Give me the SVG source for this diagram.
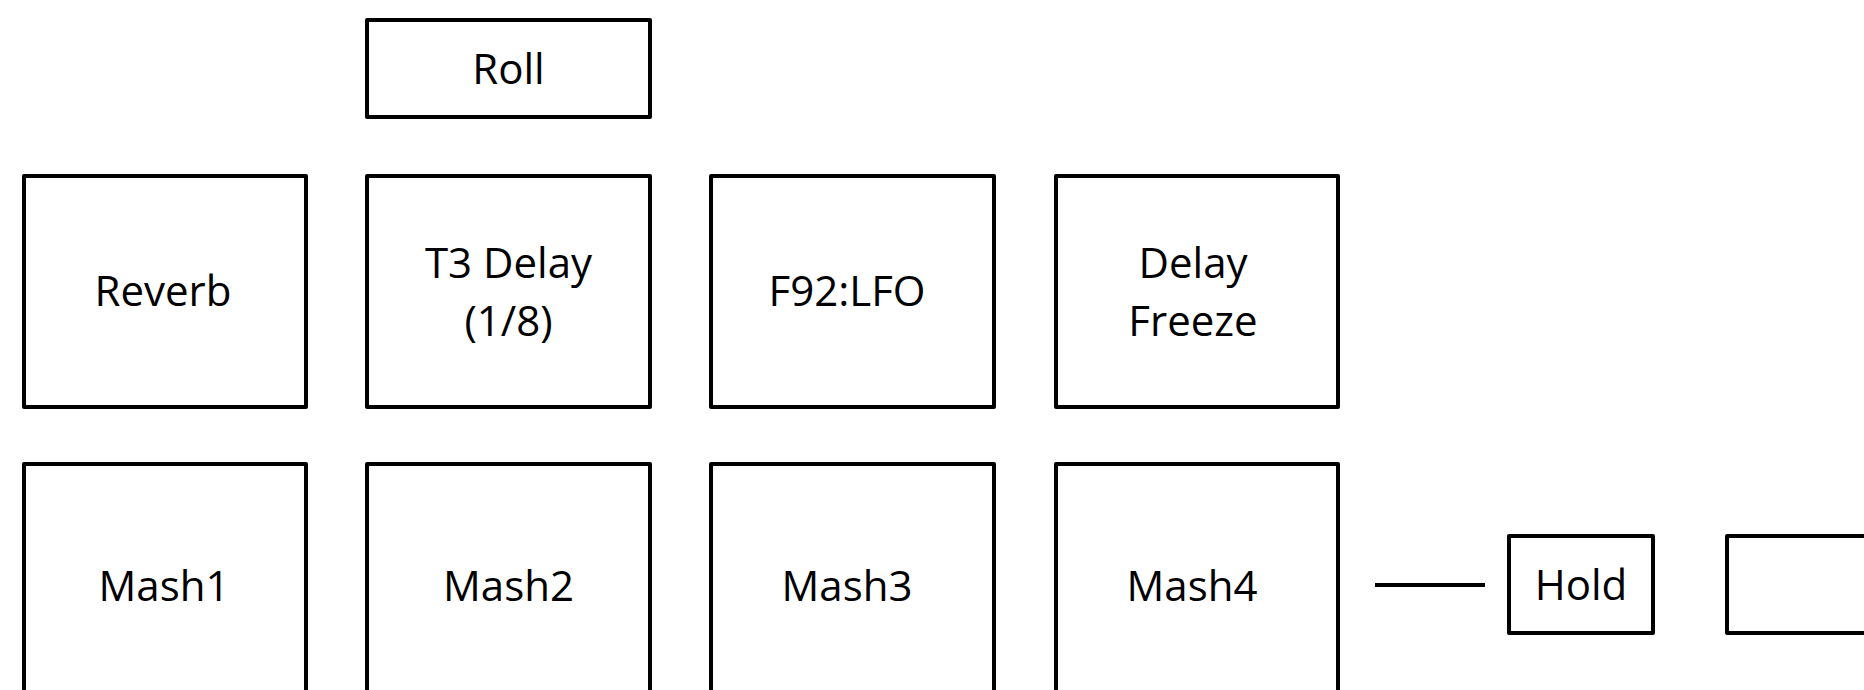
<svg xmlns="http://www.w3.org/2000/svg" width="1864" height="690" viewBox="0 0 1864 690">
<style>
.box{fill:#fff;stroke:#000;stroke-width:4;stroke-linejoin:round}
.t{font-family:"Open Sans","Liberation Sans",sans-serif;font-size:42px;text-anchor:middle;fill:#000}
.c{stroke:#000;stroke-width:4;fill:none}
</style>
<rect width="1864" height="690" fill="#fff"/>
<g id="roll"><rect class="box" x="367" y="20" width="283" height="97"/><text class="t" x="508.5" y="84">Roll</text></g>
<g id="reverb"><rect class="box" x="24" y="176" width="282" height="231"/><text class="t" x="163" y="306">Reverb</text></g>
<g id="t3delay"><rect class="box" x="367" y="176" width="283" height="231"/><text class="t" x="508.5" y="278">T3 Delay</text><text class="t" x="508.5" y="336">(1/8)</text></g>
<g id="f92lfo"><rect class="box" x="711" y="176" width="283" height="231"/><text class="t" x="847" y="306">F92:LFO</text></g>
<g id="delayfreeze"><rect class="box" x="1056" y="176" width="282" height="231"/><text class="t" x="1193" y="278">Delay</text><text class="t" x="1193" y="336">Freeze</text></g>
<g id="mash1"><rect class="box" x="24" y="464" width="282" height="260"/><text class="t" x="164" y="601">Mash1</text></g>
<g id="mash2"><rect class="box" x="367" y="464" width="283" height="260"/><text class="t" x="508.5" y="601">Mash2</text></g>
<g id="mash3"><rect class="box" x="711" y="464" width="283" height="260"/><text class="t" x="847" y="601">Mash3</text></g>
<g id="mash4"><rect class="box" x="1056" y="464" width="282" height="260"/><text class="t" x="1192" y="601">Mash4</text></g>
<g id="hold"><rect class="box" x="1509" y="536" width="144" height="97"/><text class="t" x="1581" y="600">Hold</text></g>
<g id="blank"><rect class="box" x="1727" y="536" width="200" height="97"/></g>
<g id="connectors"><line class="c" x1="1375" y1="585" x2="1485" y2="585"/></g>
</svg>
